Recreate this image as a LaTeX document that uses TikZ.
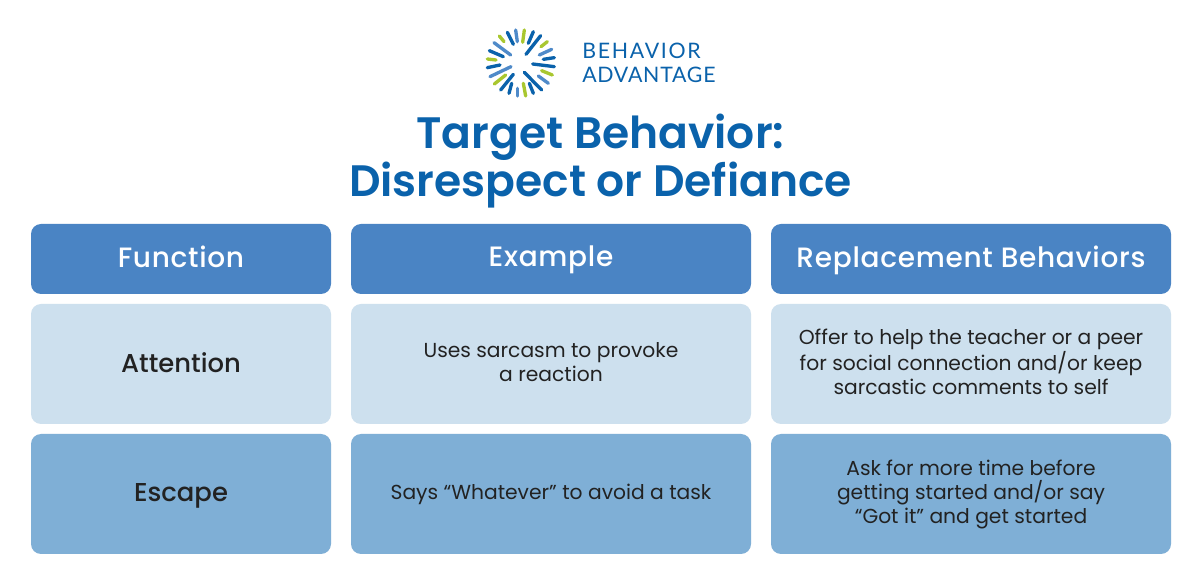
\documentclass[tikz,border=0pt]{standalone}
\usepackage{fontspec}
\setmainfont{Poppins}
\newfontfamily\logofont[LetterSpace=8]{Lato}
\newfontfamily\logofontb[LetterSpace=3.5]{Lato}
\newfontfamily\medfont{Poppins Medium}
\newfontfamily\medfonths[LetterSpace=2.5]{Poppins Medium}
\newfontfamily\semifont{Poppins SemiBold}
\definecolor{brand}{HTML}{0A62AB}
\definecolor{headblue}{HTML}{4A84C4}
\definecolor{lightblue}{HTML}{CDE0EE}
\definecolor{midblue}{HTML}{7FAFD6}
\definecolor{inktext}{HTML}{222222}
\definecolor{logodark}{HTML}{0A62AB}
\definecolor{logomid}{HTML}{4F8AC9}
\definecolor{logogreen}{HTML}{A9C72F}
\tikzset{
  x=0.75pt,y=-0.75pt,
  cell/.style={fill=#1,rounded corners=7.5pt},
  lab/.style={inner sep=0pt,align=center,text=inktext},
  headlab/.style={lab,text=white,font=\fontsize{21}{25}\medfonths},
  fnlabel/.style={lab,font=\fontsize{19.4}{23}\medfont},
  body/.style={lab,font=\fontsize{15.2}{18}\selectfont},
  bar/.style={line width=2.5pt,line cap=round},
  titletext/.style={text=brand,font=\fontsize{33}{36}\semifont,align=center},
  logotext/.style={text=logodark,font=\fontsize{16}{18}\logofont,anchor=base west,inner sep=0pt},
  logotextb/.style={text=logodark,font=\fontsize{16}{18}\logofontb,anchor=base west,inner sep=0pt}
}
\begin{document}
\begin{tikzpicture}
\useasboundingbox (0,0) rectangle (1200,580);
\fill[white] (0,0) rectangle (1200,580);
% logo mark
\begin{scope}[shift={(470,15)},x=0.25pt,y=-0.25pt]
\foreach \c/\xa/\ya/\xb/\yb in {
 logodark/112/52/130/88, logomid/137/45/142/80, logogreen/163/45/158/82, logodark/190/50/175/85,
 logodark/212/62/168/118, logogreen/232/80/213/95, logomid/245/103/208/120, logodark/253/128/220/133,
 logodark/253/155/188/147, logogreen/247/180/215/167, logomid/235/205/205/183, logodark/215/225/163/172,
 logodark/190/235/178/205, logogreen/167/243/160/205, logomid/142/243/142/220, logodark/117/235/125/205,
 logodark/92/225/130/178, logogreen/73/207/107/180, logomid/60/185/123/155, logodark/52/158/90/150,
 logogreen/52/132/78/135, logodark/58/107/100/125, logomid/72/83/122/120, logogreen/88/63/102/80}
 \draw[bar,\c] (\xa,\ya) -- (\xb,\yb);
\end{scope}
\node[logotext] (logoa) at (582,59) {BEHAVIOR};
\node[logotextb] (logob) at (582,83) {ADVANTAGE};
\node[titletext] (title) at (600.5,161) {Target Behavior:\\Disrespect or Defiance};
% table cells
\fill[cell=headblue] (31,224) rectangle (331,294);
\fill[cell=headblue] (351,224) rectangle (751,294);
\fill[cell=headblue] (771,224) rectangle (1171,294);
\fill[cell=lightblue] (31,304) rectangle (331,424);
\fill[cell=lightblue] (351,304) rectangle (751,424);
\fill[cell=lightblue] (771,304) rectangle (1171,424);
\fill[cell=midblue] (31,434) rectangle (331,554);
\fill[cell=midblue] (351,434) rectangle (751,554);
\fill[cell=midblue] (771,434) rectangle (1171,554);
% labels
\node[headlab] (h1) at (181,260) {\vphantom{Ap}Function};
\node[headlab] (h2) at (551,260) {\vphantom{Ap}Example};
\node[headlab] (h3) at (971,260) {\vphantom{Ap}Replacement Behaviors};
\node[fnlabel] (a1) at (181,365.5) {\vphantom{Ap}Attention};
\node[body] (a2) at (551,362) {Uses sarcasm to provoke\\a reaction};
\node[body] (a3) at (971,362) {Offer to help the teacher or a peer\\for social connection and/or keep\\sarcastic comments to self};
\node[fnlabel] (b1) at (181,495.5) {\vphantom{Ap}Escape};
\node[body] (b2) at (551,494) {Says “Whatever” to avoid a task};
\node[body] (b3) at (971,494) {Ask for more time before\\getting started and/or say\\“Got it” and get started};
\end{tikzpicture}
\end{document}
